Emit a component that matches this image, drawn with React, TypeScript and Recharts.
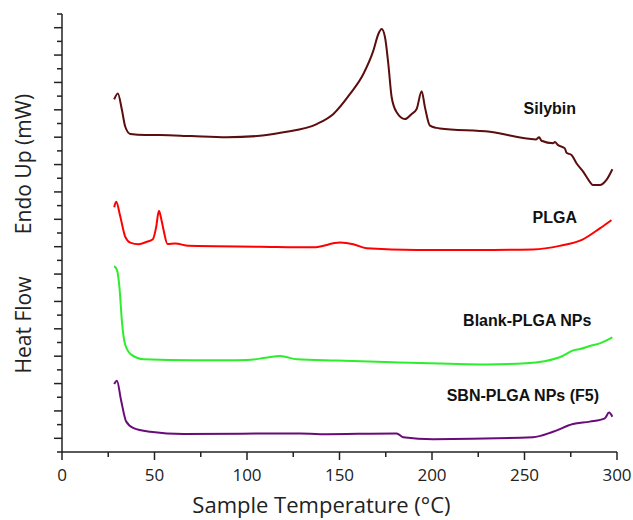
import { LineChart, Line, XAxis, YAxis, ReferenceDot } from 'recharts'

// Sample temperature (°C) and heat flow (arbitrary, endo up)
const silybinT = [28.2, 30.2, 32.4, 34.2, 36.9, 45, 53, 70, 89, 107, 119.7, 137.7, 146.7, 155.7, 162.9, 168.3, 171, 172.8, 174.6, 176.4, 178.2, 180.9, 185.4, 189, 191.7, 194.4, 196.2, 198.9, 202.5, 204.3, 231.3, 256.3, 257.9, 259.2, 265.5, 266.4, 268.2, 271.8, 272.7, 275.4, 278.1, 281.7, 285.3, 287, 290.7, 294.3, 297.5]
const silybinHF = [12.88, 13.1, 12.49, 11.88, 11.62, 11.58, 11.58, 11.54, 11.5, 11.55, 11.68, 11.98, 12.35, 13.08, 13.81, 14.66, 15.27, 15.45, 15.15, 14.17, 12.96, 12.41, 12.16, 12.35, 12.53, 13.18, 12.59, 11.92, 11.84, 11.82, 11.7, 11.42, 11.5, 11.37, 11.28, 11.32, 11.21, 11.09, 10.93, 10.85, 10.55, 10.24, 9.87, 9.75, 9.75, 9.94, 10.33]

const plgaT = [28.2, 29.3, 31.5, 34.2, 36.9, 41.4, 45.9, 49.1, 50.8, 52.4, 54, 54.9, 57, 61.2, 68.4, 107, 135.9, 150.3, 157.5, 164.7, 191.7, 224.1, 254.6, 269, 281.6, 290.7, 297]
const plgaHF = [8.94, 9.14, 8.6, 7.86, 7.65, 7.59, 7.68, 7.77, 8.18, 8.81, 8.4, 8.11, 7.6, 7.62, 7.53, 7.5, 7.48, 7.65, 7.59, 7.44, 7.38, 7.38, 7.4, 7.53, 7.77, 8.17, 8.47]

const blankT = [28.2, 29.7, 31.1, 32.4, 34.2, 37.8, 44.1, 71, 89.1, 100, 110, 117.9, 121, 126.9, 148.5, 179, 229.5, 251, 269, 277.2, 280, 285.3, 290.7, 297.5]
const blankHF = [6.79, 6.65, 5.98, 4.76, 3.91, 3.54, 3.39, 3.35, 3.35, 3.36, 3.44, 3.51, 3.47, 3.39, 3.34, 3.28, 3.2, 3.24, 3.46, 3.73, 3.76, 3.87, 3.97, 4.19]

const sbnT = [28.2, 29.7, 31.9, 34.7, 38.7, 47.7, 65.7, 128.7, 139.5, 180.9, 184.4, 200.6, 254.6, 265.4, 276.2, 285.3, 293.4, 295.7, 297.5]
const sbnHF = [2.48, 2.6, 1.9, 1.11, 0.87, 0.74, 0.66, 0.68, 0.65, 0.68, 0.54, 0.47, 0.54, 0.74, 1.02, 1.11, 1.23, 1.44, 1.29]

const X_TICKS = [0, 25, 50, 75, 100, 125, 150, 175, 200, 225, 250, 275, 300]
const Y_TICKS = [0, 0.5, 1, 1.5, 2, 2.5, 3, 3.5, 4, 4.5, 5, 5.5, 6, 6.5, 7, 7.5, 8, 8.5, 9, 9.5, 10, 10.5, 11, 11.5, 12, 12.5, 13, 13.5, 14, 14.5, 15, 15.5, 16]

// where each curve's name sits, in data units
const SERIES = [
  { name: 'Silybin', t: silybinT, hf: silybinHF, color: '#5c0d0d', lx: 263.7, ly: 12.53 },
  { name: 'PLGA', t: plgaT, hf: plgaHF, color: '#ff0000', lx: 266.4, ly: 8.58 },
  { name: 'Blank-PLGA NPs', t: blankT, hf: blankHF, color: '#2cee2c', lx: 251.5, ly: 4.79 },
  { name: 'SBN-PLGA NPs (F5)', t: sbnT, hf: sbnHF, color: '#690b78', lx: 249.1, ly: 2.08 },
]

const INK = '#222'
const FONT = "'Open Sans', sans-serif"

function XTick({ x, y, payload }: any) {
  const major = payload.value % 50 === 0
  return (
    <g>
      <line x1={x} y1={y} x2={x} y2={y + (major ? 8 : 5)} stroke={INK} strokeWidth={1.5} />
      {major && (
        <text x={x} y={y + 29} textAnchor="middle" fontSize={17} fontFamily={FONT} fill={INK}>
          {payload.value}
        </text>
      )}
    </g>
  )
}

function YTick({ x, y, payload }: any) {
  const major = payload.value % 1 !== 0
  return <line x1={x} y1={y} x2={x - (major ? 8 : 5)} y2={y} stroke={INK} strokeWidth={1.5} />
}

function SeriesLabel({ cx, cy, text }: any) {
  return (
    <text x={cx} y={cy} textAnchor="middle" dominantBaseline="central"
      fontSize={16} fontWeight="bold" fontFamily="'Liberation Sans', Arial, sans-serif" fill="#111">
      {text}
    </text>
  )
}

export default function App() {
  return (
    <div style={{ position: 'absolute', left: 0, top: 0, background: '#fff' }}>
      <LineChart width={633} height={520} margin={{ top: 14, right: 16, bottom: 0, left: 0 }}>
        <XAxis type="number" dataKey="t" domain={[0, 300]} ticks={X_TICKS} interval={0}
          height={68} tickSize={0} tickMargin={0} tickLine={false} tick={<XTick />}
          axisLine={{ stroke: INK, strokeWidth: 1.5 }}
          label={({ viewBox }: any) => (
            <text x={viewBox.x + viewBox.width / 2 - 18} y={viewBox.y + 61} textAnchor="middle"
              fontSize={22} fontFamily={FONT} fill={INK}>Sample Temperature (°C)</text>
          )} />
        <YAxis type="number" domain={[0, 16]} ticks={Y_TICKS} interval={0}
          width={62} tickSize={0} tickMargin={0} tickLine={false} tick={<YTick />}
          axisLine={{ stroke: INK, strokeWidth: 1.5 }}
          label={({ viewBox }: any) => {
            const cx = 23
            const top = viewBox.y
            return (
              <g fontSize={21} fontFamily={FONT} fill={INK} textAnchor="middle">
                <text transform={`translate(${cx},${top + 150}) rotate(-90)`} dominantBaseline="central">Endo Up (mW)</text>
                <text transform={`translate(${cx},${top + 311}) rotate(-90)`} dominantBaseline="central">Heat Flow</text>
              </g>
            )
          }} />
        {SERIES.map(s => (
          <Line key={s.name} data={s.t.map((t, i) => ({ t, hf: s.hf[i] }))} dataKey="hf"
            type="monotone" stroke={s.color} strokeWidth={2} dot={false} isAnimationActive={false} />
        ))}
        {SERIES.map(s => (
          <ReferenceDot key={s.name + '-lbl'} x={s.lx} y={s.ly} r={0}
            shape={(p: any) => <SeriesLabel cx={p.cx} cy={p.cy} text={s.name} />} />
        ))}
      </LineChart>
    </div>
  )
}
